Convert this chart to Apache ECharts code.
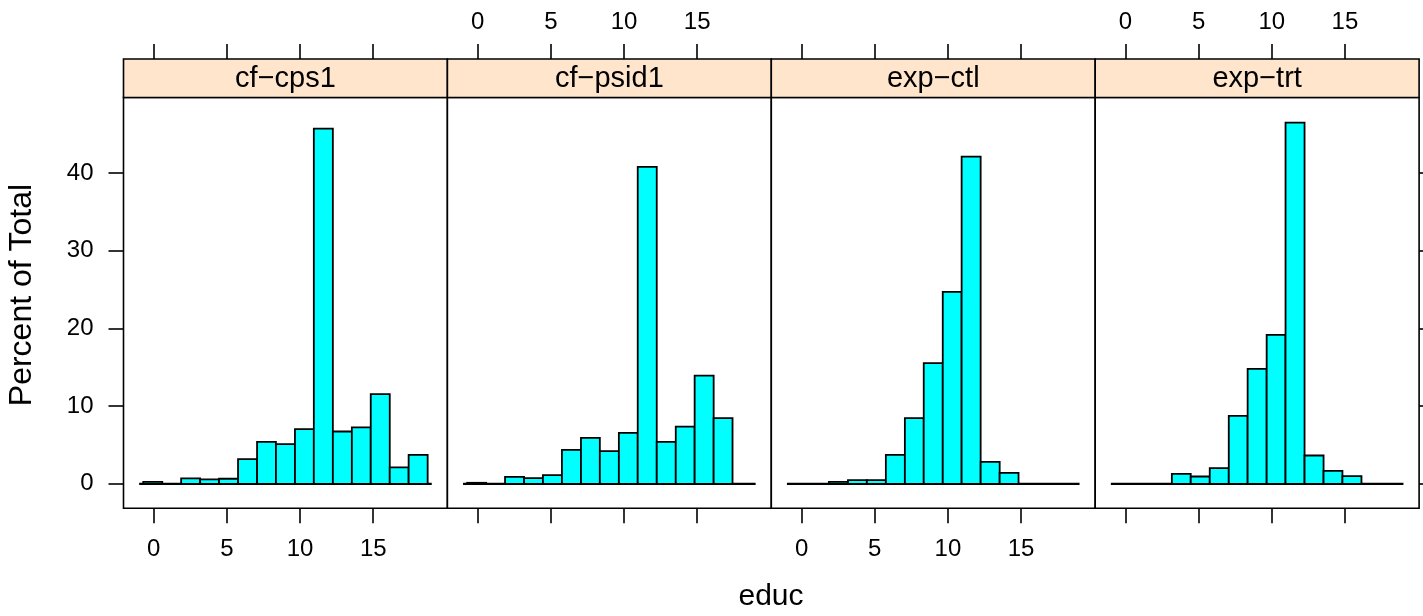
<!DOCTYPE html>
<html>
<head>
<meta charset="UTF-8">
<title>educ histogram</title>
<script src="https://cdn.jsdelivr.net/npm/echarts@6/dist/echarts.min.js"></script>
<style>
  html, body, #chart { margin: 0; padding: 0; width: 1423px; height: 616px; background: #fff; }
</style>
</head>
<body>
<div id="chart"></div>
<script>
// panels (lattice strips)
const panelNames = ['cf\u2212cps1', 'cf\u2212psid1', 'exp\u2212ctl', 'exp\u2212trt'];
// histogram breakpoints for educ (same for every panel)
const binEdges = [-0.72, 0.58, 1.87, 3.17, 4.46, 5.76, 7.06, 8.35, 9.65, 10.94, 12.24, 13.54, 14.83, 16.13, 17.42, 18.72];
// percent of total per bin
const cps1Pct  = [0.25, 0, 0.69, 0.56, 0.65, 3.18, 5.4, 5.1, 7.03, 45.7, 6.73, 7.25, 11.53, 2.11, 3.73];
const psid1Pct = [0.13, 0, 0.9, 0.73, 1.11, 4.37, 5.92, 4.2, 6.56, 40.77, 5.4, 7.37, 13.93, 8.45, 0];
const ctlPct   = [0, 0, 0.26, 0.47, 0.47, 3.73, 8.45, 15.52, 24.69, 42.1, 2.83, 1.41, 0, 0, 0];
const trtPct   = [0, 0, 0, 1.29, 0.94, 2.02, 8.75, 14.79, 19.16, 46.47, 3.64, 1.67, 0.99, 0, 0];
const panelPct = [cps1Pct, psid1Pct, ctlPct, trtPct];
const baseLine = [[-1, 0], [19, 0]];
const xTicks = [0, 5, 10, 15];
const yTicks = [0, 10, 20, 30, 40];

const FONT = 'Liberation Sans, Arial, Helvetica, sans-serif';
const myChart = echarts.init(document.getElementById('chart'));

const panelLeft = 123.5, panelW = 323.9, panelTop = 97.5, panelH = 410.8;
const stripTop = 59, stripH = 38.5;

const grid = [], xAxis = [], yAxis = [], series = [], graphic = [];

function tickStyle(len, vals) {
  return { show: true, inside: false, length: len, customValues: vals, lineStyle: { color: '#000', width: 1.6 } };
}

for (let i = 0; i < 4; i++) {
  const left = panelLeft + i * panelW;
  // plot grid (even index)
  grid.push({ left: left, top: panelTop, width: panelW, height: panelH, show: true,
    borderColor: '#000', borderWidth: 1.6, backgroundColor: '#fff', outerBoundsMode: 'none' });
  // strip grid (odd index)
  grid.push({ left: left, top: stripTop, width: panelW, height: stripH, show: true,
    borderColor: '#000', borderWidth: 1.6, backgroundColor: '#ffe5cc', outerBoundsMode: 'none' });

  // bottom axis: labels on panels 1 and 3
  xAxis.push({
    gridIndex: i * 2, type: 'value', position: 'bottom', min: -2.07, max: 20.07,
    axisLine: { show: false, onZero: false }, splitLine: { show: false },
    axisTick: tickStyle(15, xTicks),
    axisLabel: { show: i % 2 === 0, customValues: xTicks, margin: 29, color: '#000', fontSize: 24, fontFamily: FONT }
  });
  // top axis above the strip: labels on panels 2 and 4
  xAxis.push({
    gridIndex: i * 2, type: 'value', position: 'top', offset: panelTop - stripTop, min: -2.07, max: 20.07,
    axisLine: { show: false, onZero: false }, splitLine: { show: false },
    axisTick: tickStyle(15, xTicks),
    axisLabel: { show: i % 2 === 1, customValues: xTicks, margin: 25, color: '#000', fontSize: 24, fontFamily: FONT }
  });
  yAxis.push({
    gridIndex: i * 2, type: 'value', min: -3.15, max: 49.7,
    position: i === 3 ? 'right' : 'left',
    axisLine: { show: false, onZero: false }, splitLine: { show: false },
    axisTick: { show: i === 0 || i === 3, inside: false, length: 15, customValues: yTicks, lineStyle: { color: '#000', width: 1.6 } },
    axisLabel: { show: i === 0, customValues: yTicks, margin: 30, color: '#000', fontSize: 24, fontFamily: FONT }
  });

  series.push({
    type: 'line', xAxisIndex: i * 2, yAxisIndex: i, data: baseLine, symbol: 'none', silent: true,
    lineStyle: { color: '#000', width: 2.2 }, z: 1
  });
  const pct = panelPct[i];
  const bins = [];
  for (let k = 0; k < pct.length; k++) {
    if (pct[k] > 0) bins.push([binEdges[k], binEdges[k + 1], pct[k]]);
  }
  series.push({
    type: 'custom', xAxisIndex: i * 2, yAxisIndex: i, data: bins, z: 2,
    renderItem: function (params, api) {
      const p0 = api.coord([api.value(0), api.value(2)]);
      const p1 = api.coord([api.value(1), 0]);
      return {
        type: 'rect',
        shape: { x: p0[0], y: p0[1], width: p1[0] - p0[0], height: p1[1] - p0[1] },
        style: { fill: '#00ffff', stroke: '#000', lineWidth: 1.8 }
      };
    }
  });

  graphic.push({
    type: 'text', x: left + panelW / 2, y: stripTop + stripH / 2 + 1,
    style: { text: panelNames[i], font: '29px ' + FONT, fill: '#000', align: 'center', verticalAlign: 'middle' }
  });
}

// hidden axes so the strip grids exist as coordinate systems
for (let i = 0; i < 4; i++) {
  xAxis.push({ gridIndex: i * 2 + 1, type: 'value', show: false });
  yAxis.push({ gridIndex: i * 2 + 1, type: 'value', show: false });
}

graphic.push({
  type: 'text', x: 771, y: 597,
  style: { text: 'educ', font: '30px ' + FONT, fill: '#000', align: 'center', verticalAlign: 'middle' }
});
graphic.push({
  type: 'text', x: 22, y: 295, rotation: Math.PI / 2,
  style: { text: 'Percent of Total', font: '32px ' + FONT, fill: '#000', align: 'center', verticalAlign: 'middle' }
});

const option = {
  animation: false,
  backgroundColor: '#fff',
  grid: grid,
  xAxis: xAxis,
  yAxis: yAxis,
  series: series,
  graphic: { elements: graphic }
};
myChart.setOption(option);
</script>
</body>
</html>
